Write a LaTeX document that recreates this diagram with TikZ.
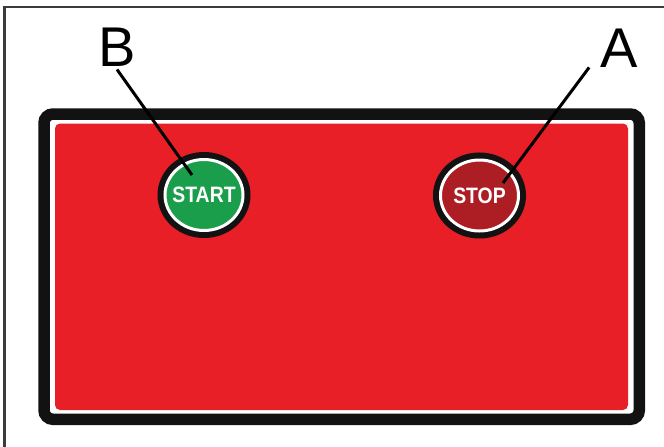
\documentclass[tikz,border=0pt]{standalone}
\usepackage{fontspec}
\usepackage{xcolor}
\usepackage{tikz}
\usetikzlibrary{shapes.geometric}
\setmainfont{Liberation Sans}
\definecolor{panelred}{RGB}{232,31,38}
\definecolor{startgreen}{RGB}{26,158,75}
\definecolor{stopred}{RGB}{172,29,36}
\definecolor{framegray}{RGB}{60,60,60}
\tikzset{
  button/.style={ellipse, draw=white, line width=3pt, inner sep=0pt, outer sep=0pt,
                 minimum width=78pt, minimum height=71pt,
                 preaction={draw=black!93, line width=15pt}},
  startbtn/.style={button, fill=startgreen},
  stopbtn/.style={button, fill=stopred},
  btntext/.style={text=white, font=\fontsize{22.3}{24}\selectfont\bfseries},
  callout/.style={inner sep=3pt, font=\fontsize{56}{60}\selectfont},
  leader/.style={line width=3pt, black}
}

\begin{document}
\begin{tikzpicture}[x=1pt, y=-1pt]
    \useasboundingbox (0,0) rectangle (664,447);
    % outer frame, only left and top edge show
    \draw[framegray, line width=2.5pt] (4.5,447) |- (664,7);
    % control panel
    \draw[black!93, line width=11.5pt, rounded corners=9pt] (44,114) rectangle (639.3,419.3);
    \fill[panelred, rounded corners=5pt] (55,123.5) rectangle (628,410);
    \node[startbtn, label={[btntext]center:\scalebox{.87}[1]{START}}] (start) at (204,195) {};
    \node[stopbtn, label={[btntext]center:\scalebox{.87}[1]{STOP}}] (stop) at (479.5,195.5) {};
    \node[callout] (lblB) at (117,47) {B};
    \node[callout] (lblA) at (619,48) {A};
    \coordinate (startTip) at (192,175);
    \coordinate (stopTip) at (503,183);
    \draw[leader] (lblB.south) -- (startTip);
    \draw[leader] ([xshift=-8pt,yshift=3pt]lblA.south west) -- (stopTip);
\end{tikzpicture}
\end{document}
